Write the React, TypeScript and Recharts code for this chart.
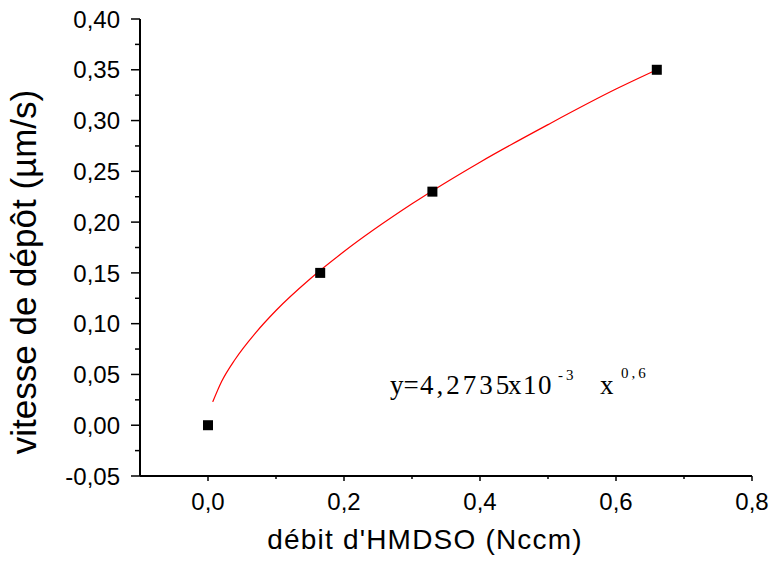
import React from 'react';
import { ComposedChart, XAxis, YAxis, Line, Scatter, Customized } from 'recharts';

// Measured points
const flowRates = [0, 0.165, 0.33, 0.66];
const depositionRates = [0, 0.15, 0.23, 0.35];

// Fit curve
const fitFlow = [0.007, 0.02, 0.04, 0.07, 0.1, 0.15, 0.2, 0.3, 0.4, 0.5, 0.6, 0.66];
const fitRate = [0.023, 0.043, 0.065, 0.091, 0.113, 0.144, 0.171, 0.218, 0.259, 0.296, 0.331, 0.35];

const xTicks = [0, 0.1, 0.2, 0.3, 0.4, 0.5, 0.6, 0.7, 0.8];
const yTicks = [-0.05, -0.025, 0, 0.025, 0.05, 0.075, 0.1, 0.125, 0.15, 0.175, 0.2, 0.225, 0.25, 0.275, 0.3, 0.325, 0.35, 0.375, 0.4];

const xTitle = "débit d'HMDSO (Nccm)";
const yTitle = 'vitesse de dépôt (µm/s)';

const points = flowRates.map((x, i) => ({ x, y: depositionRates[i] }));
const fit = fitFlow.map((x, i) => ({ x, y: fitRate[i] }));

const SANS = 'Arial, "Liberation Sans", sans-serif';
const SERIF = '"Times New Roman", "Liberation Serif", serif';

const fmt = (v: number, d: number) => v.toFixed(d).replace('.', ',');
const isMultiple = (v: number, step: number) => Math.abs(Math.round(v / step) * step - v) < 1e-6;

const LeftTick = (props: any) => {
  const { x, y, payload } = props;
  const v = payload.value;
  const major = isMultiple(v, 0.05);
  const ax = x + 9 + 11;
  return (
    <g>
      <line x1={ax} x2={ax - (major ? 9 : 5)} y1={y} y2={y} stroke="#000" strokeWidth={1.5} />
      {major && (
        <text x={x} y={y} dy="0.36em" textAnchor="end" fontSize={24} fontFamily={SANS} fill="#000">
          {fmt(v, 2)}
        </text>
      )}
    </g>
  );
};

const BottomTick = (props: any) => {
  const { x, y, payload } = props;
  const v = payload.value;
  const major = isMultiple(v, 0.2);
  const ay = y - 5 - 12;
  return (
    <g>
      <line x1={x} x2={x} y1={ay} y2={ay + (major ? 5 : 3)} stroke="#000" strokeWidth={1.5} />
      {major && (
        <text x={x} y={y} dy="0.71em" textAnchor="middle" fontSize={24} fontFamily={SANS} fill="#000">
          {fmt(v, 1)}
        </text>
      )}
    </g>
  );
};

const Square = (props: any) => {
  const { cx, cy } = props;
  return <rect x={cx - 5} y={cy - 5} width={10} height={10} fill="#000" />;
};

const Annotations = () => (
  <g>
    <text x={425} y={549} textAnchor="middle" fontSize={28} letterSpacing={1.2} fontFamily={SANS} fill="#000">
      {xTitle}
    </text>
    <text
      x={36}
      y={272}
      transform="rotate(-90, 36, 272)"
      textAnchor="middle"
      fontSize={35}
      fontFamily={SANS}
      fill="#000"
    >
      {yTitle}
    </text>
    <g fontFamily={SERIF} fill="#000">
      <text x={390} y={394} fontSize={27}>y=</text>
      <text x={420} y={394} fontSize={27} letterSpacing={3}>4,2735</text>
      <text x={508} y={394} fontSize={27} letterSpacing={1.5}>x10</text>
      <text x={558} y={380} fontSize={15} letterSpacing={3}>-3</text>
      <text x={600} y={394} fontSize={27}>x</text>
      <text x={621} y={378} fontSize={15} letterSpacing={3}>0,6</text>
    </g>
  </g>
);

export default function App() {
  return (
    <div style={{ position: 'absolute', left: 0, top: 0 }}>
      <ComposedChart width={773} height={574} margin={{ top: 19, right: 21, bottom: 0, left: 0 }}>
        <XAxis
          xAxisId="x"
          type="number"
          dataKey="x"
          domain={[-0.1, 0.8]}
          ticks={xTicks}
          interval={0}
          height={98}
          tickSize={5}
          tickMargin={12}
          tickLine={false}
          tick={<BottomTick />}
          axisLine={{ stroke: '#000', strokeWidth: 2 }}
          allowDataOverflow
        />
        <XAxis
          xAxisId="top"
          orientation="top"
          type="number"
          dataKey="x"
          domain={[-0.1, 0.8]}
          ticks={xTicks}
          interval={0}
          height={0}
          mirror
          tickSize={3}
          tickFormatter={() => ''}
          tickLine={{ stroke: '#000', strokeWidth: 1 }}
          axisLine={{ stroke: '#000', strokeWidth: 2 }}
          allowDataOverflow
        />
        <YAxis
          yAxisId="y"
          type="number"
          dataKey="y"
          domain={[-0.05, 0.4]}
          ticks={yTicks}
          interval={0}
          width={140}
          tickSize={9}
          tickMargin={11}
          tickLine={false}
          tick={<LeftTick />}
          axisLine={{ stroke: '#000', strokeWidth: 2 }}
          allowDataOverflow
        />
        <YAxis
          yAxisId="right"
          orientation="right"
          type="number"
          dataKey="y"
          domain={[-0.05, 0.4]}
          ticks={yTicks}
          interval={0}
          width={0}
          mirror
          tickSize={3}
          tickFormatter={() => ''}
          tickLine={{ stroke: '#000', strokeWidth: 1 }}
          axisLine={{ stroke: '#000', strokeWidth: 2 }}
          allowDataOverflow
        />
        <Line
          xAxisId="x"
          yAxisId="y"
          data={fit}
          dataKey="y"
          type="monotone"
          stroke="#ff0000"
          strokeWidth={1.2}
          dot={false}
          activeDot={false}
          isAnimationActive={false}
        />
        <Scatter
          xAxisId="x"
          yAxisId="y"
          data={points}
          dataKey="y"
          shape={<Square />}
          isAnimationActive={false}
        />
        <Customized component={Annotations} />
      </ComposedChart>
    </div>
  );
}
